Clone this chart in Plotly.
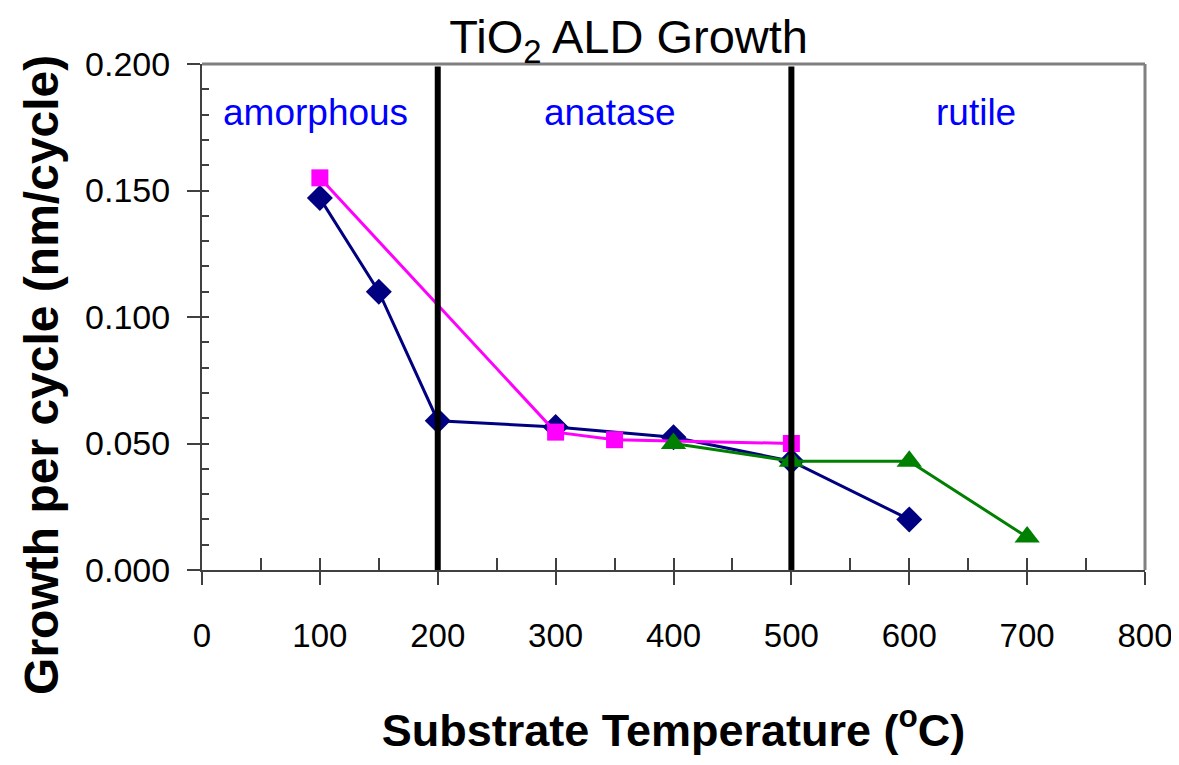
import plotly.graph_objects as go

# ---- data ----
temp_blue = [100, 150, 200, 300, 400, 500, 600]
gpc_blue = [0.147, 0.110, 0.059, 0.0565, 0.0525, 0.043, 0.020]

temp_pink = [100, 300, 350, 500]
gpc_pink = [0.155, 0.0545, 0.0515, 0.050]

temp_green = [400, 500, 600, 700]
gpc_green = [0.050, 0.043, 0.043, 0.013]

phase_boundaries = [200, 500]
phase_names = ["amorphous", "anatase", "rutile"]
phase_label_x = [96, 346, 657]
phase_label_y = 0.181

x_range = [0, 800]
y_range = [0, 0.2]

FONT = "Liberation Sans, Arial, sans-serif"

fig = go.Figure()
fig.add_trace(go.Scatter(x=temp_blue, y=gpc_blue, mode="lines+markers",
                         line=dict(color="#000080", width=3),
                         marker=dict(symbol="diamond", size=20, color="#000080"),
                         showlegend=False))
fig.add_trace(go.Scatter(x=temp_pink, y=gpc_pink, mode="lines+markers",
                         line=dict(color="#FF00FF", width=3),
                         marker=dict(symbol="square", size=17, color="#FF00FF"),
                         showlegend=False))
fig.add_trace(go.Scatter(x=temp_green, y=gpc_green, mode="lines+markers",
                         line=dict(color="#008000", width=3),
                         marker=dict(symbol="triangle-up", size=22, color="#008000"),
                         showlegend=False))

for xb in phase_boundaries:
    fig.add_shape(type="line", xref="x", yref="y", x0=xb, x1=xb, y0=y_range[0], y1=0.199,
                  line=dict(color="black", width=6), layer="above")

# grey frame top/right
fig.add_shape(type="line", xref="paper", yref="paper", x0=0, x1=1, y0=1, y1=1,
              line=dict(color="#808080", width=3), layer="below")
fig.add_shape(type="line", xref="paper", yref="paper", x0=1, x1=1, y0=0, y1=1,
              line=dict(color="#808080", width=3), layer="below")

for name, xl in zip(phase_names, phase_label_x):
    fig.add_annotation(x=xl, y=phase_label_y, xref="x", yref="y", text=name,
                       showarrow=False, font=dict(family=FONT, size=37, color="#0000FF"))

# y-axis title (centred on the figure, not on the plot area)
fig.add_annotation(x=-0.171, y=0.385, xref="paper", yref="paper",
                   text="Growth per cycle (nm/cycle)", textangle=-90,
                   xanchor="center", yanchor="middle", showarrow=False,
                   font=dict(family=FONT, size=48, color="black", weight="bold"))

axis_col = "#404040"
fig.update_layout(
    width=1171, height=757,
    paper_bgcolor="white", plot_bgcolor="white",
    margin=dict(l=194, r=34, t=56, b=195, autoexpand=False),
    title=dict(text="TiO<sub>2</sub> ALD Growth", x=0.53, xanchor="center",
               y=0.962, yanchor="middle",
               font=dict(family=FONT, size=47, color="black")),
    xaxis=dict(range=x_range, dtick=100, tick0=0, showgrid=False, zeroline=False,
               showline=True, linecolor=axis_col, linewidth=2,
               ticks="outside", ticklen=13, tickwidth=1.5, tickcolor=axis_col,
               ticklabelstandoff=22, ticklabeloverflow="allow", automargin=False,
               tickfont=dict(family=FONT, size=33, color="black"),
               title=dict(text="Substrate Temperature (<sup>o</sup>C)", standoff=62,
                          font=dict(family=FONT, size=45, color="black", weight="bold"))),
    yaxis=dict(range=y_range, dtick=0.05, tick0=0, tickformat=".3f", showgrid=False,
               zeroline=False, showline=True, linecolor=axis_col, linewidth=2,
               ticks="outside", ticklen=13, tickwidth=1.5, tickcolor=axis_col,
               ticklabelstandoff=10, automargin=False,
               tickfont=dict(family=FONT, size=34, color="black")),
    xaxis2=dict(range=x_range, overlaying="x", anchor="y", side="bottom", dtick=50, tick0=0,
                ticks="inside", ticklen=12, tickwidth=1.5, tickcolor=axis_col,
                showticklabels=False, showgrid=False, zeroline=False, showline=False),
    yaxis2=dict(range=y_range, overlaying="y", anchor="x", side="left", dtick=0.01, tick0=0,
                ticks="inside", ticklen=7, tickwidth=1.5, tickcolor=axis_col,
                showticklabels=False, showgrid=False, zeroline=False, showline=False),
)
fig.add_trace(go.Scatter(x=[None], y=[None], xaxis="x2", yaxis="y2", showlegend=False,
                         hoverinfo="skip"))

fig.write_html("out.html")
